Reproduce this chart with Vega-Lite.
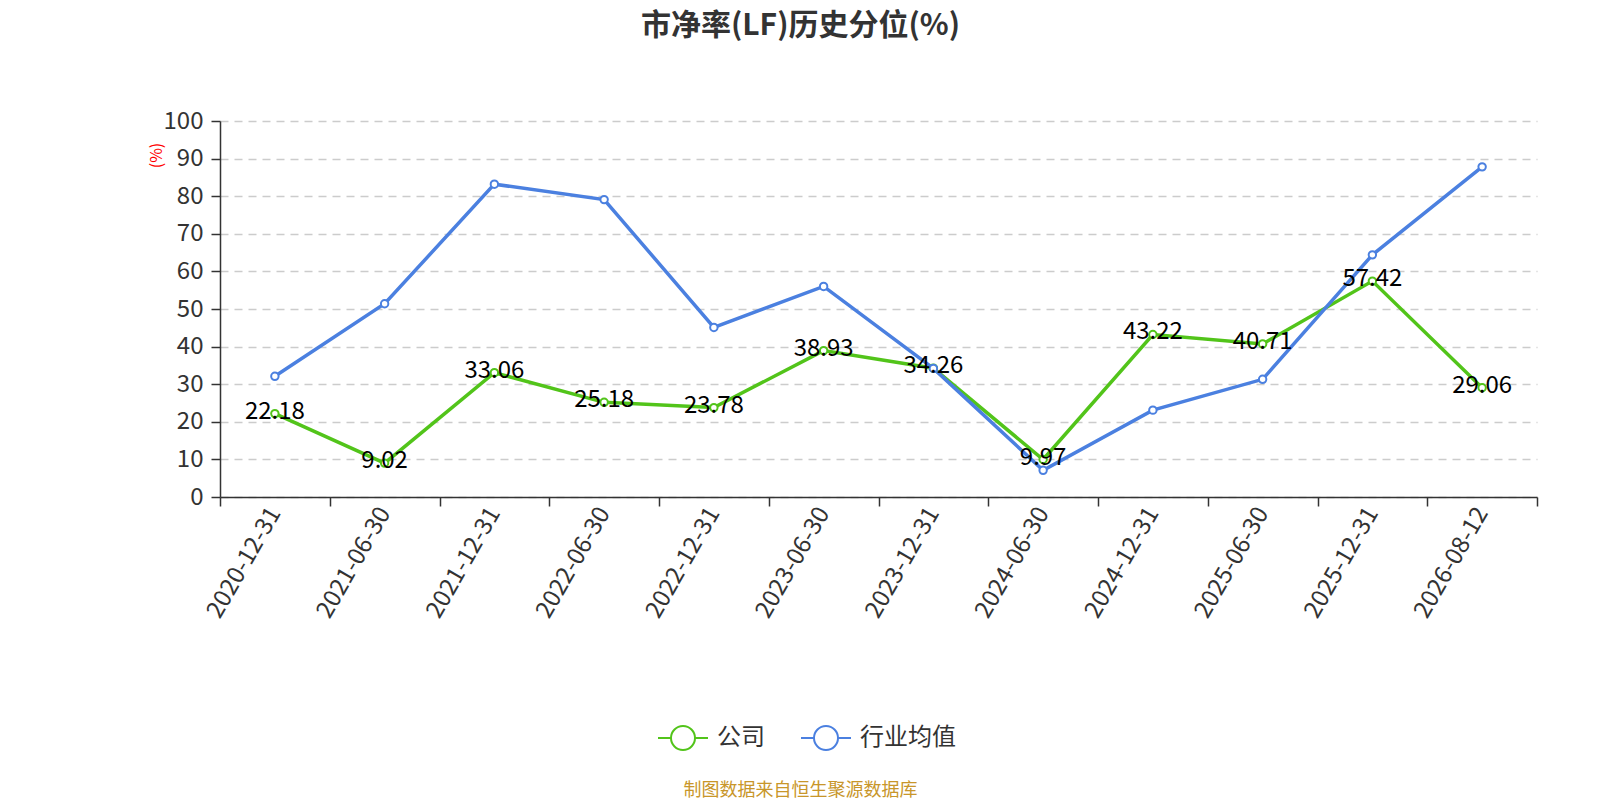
{
  "$schema": "https://vega.github.io/schema/vega-lite/v6.json",
  "width": 1317,
  "height": 376,
  "autosize": {"type": "none"},
  "padding": {"left": 220, "top": 121, "right": 63, "bottom": 303},
  "background": "white",
  "view": {"stroke": null},
  "title": {
    "text": "市净率(LF)历史分位(%)",
    "font": "Noto Sans CJK SC",
    "fontSize": 30,
    "fontWeight": "bold",
    "color": "#333333",
    "anchor": "middle",
    "frame": "group",
    "dx": -78,
    "baseline": "alphabetic",
    "offset": 44
  },
  "data": {
    "values": [
      {"date": "2020-12-31", "series": "公司", "value": 22.18},
      {"date": "2021-06-30", "series": "公司", "value": 9.02},
      {"date": "2021-12-31", "series": "公司", "value": 33.06},
      {"date": "2022-06-30", "series": "公司", "value": 25.18},
      {"date": "2022-12-31", "series": "公司", "value": 23.78},
      {"date": "2023-06-30", "series": "公司", "value": 38.93},
      {"date": "2023-12-31", "series": "公司", "value": 34.26},
      {"date": "2024-06-30", "series": "公司", "value": 9.97},
      {"date": "2024-12-31", "series": "公司", "value": 43.22},
      {"date": "2025-06-30", "series": "公司", "value": 40.71},
      {"date": "2025-12-31", "series": "公司", "value": 57.42},
      {"date": "2026-08-12", "series": "公司", "value": 29.06},
      {"date": "2020-12-31", "series": "行业均值", "value": 32.1},
      {"date": "2021-06-30", "series": "行业均值", "value": 51.4},
      {"date": "2021-12-31", "series": "行业均值", "value": 83.2},
      {"date": "2022-06-30", "series": "行业均值", "value": 79.1},
      {"date": "2022-12-31", "series": "行业均值", "value": 45.1},
      {"date": "2023-06-30", "series": "行业均值", "value": 56.0},
      {"date": "2023-12-31", "series": "行业均值", "value": 34.2},
      {"date": "2024-06-30", "series": "行业均值", "value": 7.1},
      {"date": "2024-12-31", "series": "行业均值", "value": 23.1},
      {"date": "2025-06-30", "series": "行业均值", "value": 31.3},
      {"date": "2025-12-31", "series": "行业均值", "value": 64.4},
      {"date": "2026-08-12", "series": "行业均值", "value": 87.8}
    ]
  },
  "encoding": {
    "x": {
      "field": "date",
      "type": "ordinal",
      "bandPosition": 0.5,
      "scale": {"type": "band", "paddingInner": 0, "paddingOuter": 0},
      "axis": {
        "title": "制图数据来自恒生聚源数据库",
        "titleFont": "Noto Sans CJK SC",
        "titleFontSize": 18,
        "titleFontWeight": "normal",
        "titleColor": "#c8962a",
        "titleX": 580,
        "titleY": 293,
        "titleAlign": "center",
        "titleBaseline": "middle",
        "tickBand": "extent",
        "labelAngle": -60,
        "labelAlign": "right",
        "labelBaseline": "middle",
        "labelFont": "Noto Sans CJK SC",
        "labelFontSize": 24,
        "labelColor": "#333333",
        "labelPadding": 3,
        "domainColor": "#333333",
        "domainWidth": 1.5,
        "tickColor": "#333333",
        "tickSize": 9,
        "tickWidth": 1.5,
        "grid": false
      }
    },
    "y": {
      "field": "value",
      "type": "quantitative",
      "scale": {"domain": [0, 100], "nice": false},
      "axis": {
        "title": "(%)",
        "titleFont": "Noto Sans CJK SC",
        "titleFontSize": 16,
        "titleFontWeight": "normal",
        "titleColor": "red",
        "titleX": -64,
        "titleY": 34,
        "titleAlign": "center",
        "titleBaseline": "middle",
        "values": [0, 10, 20, 30, 40, 50, 60, 70, 80, 90, 100],
        "labelFont": "Noto Sans CJK SC",
        "labelFontSize": 24,
        "labelColor": "#333333",
        "labelPadding": 8,
        "domainColor": "#333333",
        "domainWidth": 1.5,
        "tickColor": "#333333",
        "tickSize": 9,
        "tickWidth": 1.5,
        "grid": true,
        "gridColor": "#cccccc",
        "gridDash": [8, 6],
        "gridWidth": 1.5
      }
    },
    "color": {
      "field": "series",
      "type": "nominal",
      "scale": {"domain": ["公司", "行业均值"], "range": ["#52c41a", "#4b80e0"]},
      "legend": {
        "title": null,
        "orient": "none",
        "legendX": 437,
        "legendY": 591,
        "direction": "horizontal",
        "symbolType": "M-1,0L-0.48,0M0.48,0L1,0M0.48,0A0.48,0.48 0 1,1 -0.48,0A0.48,0.48 0 1,1 0.48,0",
        "symbolSize": 2500,
        "symbolStrokeWidth": 2,
        "symbolFillColor": "white",
        "labelFont": "Noto Sans CJK SC",
        "labelFontSize": 24,
        "labelColor": "#333333",
        "labelOffset": 8,
        "columnPadding": 32
      }
    }
  },
  "layer": [
    {
      "mark": {"type": "line", "strokeWidth": 3.5}
    },
    {
      "mark": {"type": "point", "shape": "circle", "filled": false, "fill": "white", "fillOpacity": 1, "opacity": 1, "size": 55, "strokeWidth": 2}
    },
    {
      "transform": [{"filter": "datum.series === '公司'"}],
      "mark": {"type": "text", "font": "Noto Sans CJK SC", "fontSize": 24, "dy": -2, "baseline": "middle", "align": "center"},
      "encoding": {
        "text": {"field": "value", "type": "quantitative", "format": ".2f"},
        "color": {"value": "black"}
      }
    }
  ]
}
